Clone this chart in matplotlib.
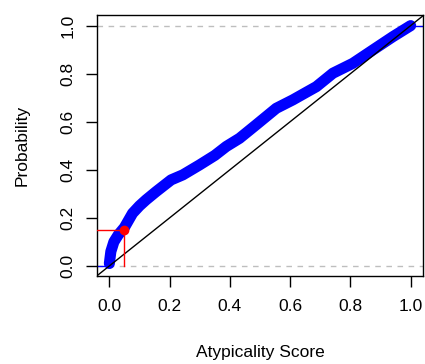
import matplotlib
matplotlib.use("Agg")
import matplotlib.pyplot as plt

plt.rcParams['font.family'] = ['Liberation Sans', 'DejaVu Sans']

# ecdf of atypicality scores
score = [0.0, 0.005, 0.015, 0.03, 0.05, 0.077, 0.10, 0.122, 0.155, 0.205, 0.244,
         0.299, 0.35, 0.388, 0.432, 0.487, 0.554, 0.609, 0.65, 0.687, 0.742,
         0.808, 0.875, 0.941, 1.0]
prob = [0.01, 0.06, 0.10, 0.13, 0.16, 0.219, 0.25, 0.275, 0.309, 0.358, 0.379,
        0.42, 0.46, 0.497, 0.531, 0.587, 0.656, 0.691, 0.72, 0.746, 0.802,
        0.843, 0.899, 0.954, 1.0]

# marked observation
obs_x = 0.05
obs_y = 0.15

ticks = [0.0, 0.2, 0.4, 0.6, 0.8, 1.0]
tick_labels = ["0.0", "0.2", "0.4", "0.6", "0.8", "1.0"]

fig = plt.figure(figsize=(4.25, 3.64), dpi=100)
W, H = 425, 364
ax = fig.add_axes([97.3 / W, 1 - 276 / H, (422.7 - 97.3) / W, (276 - 15.3) / H])

xlim = (-0.04, 1.04)
ylim = (-0.042, 1.043)
ax.set_xlim(xlim)
ax.set_ylim(ylim)

# reference lines
ax.axhline(0, color='#BEBEBE', lw=1.0, ls=(0, (4, 4)), zorder=1)
ax.axhline(1, color='#BEBEBE', lw=1.0, ls=(0, (4, 4)), zorder=1)

# ecdf tails
ax.hlines(0, xlim[0], score[0], color='blue', lw=1.0, zorder=2)
ax.hlines(1, score[-1], xlim[1], color='blue', lw=1.0, zorder=2)

# thick ecdf
ax.plot(score, prob, color='blue', lw=8.0, solid_capstyle='round',
        solid_joinstyle='round', zorder=3)

# identity line
ax.axline((0, 0), slope=1, color='black', lw=1.0, zorder=4)

# marked point with guides
ax.plot([xlim[0], obs_x], [obs_y, obs_y], color='red', lw=1.0, zorder=5)
ax.plot([obs_x, obs_x], [obs_y, 0], color='red', lw=1.0, zorder=5)
ax.plot([obs_x], [obs_y], 'o', color='red', ms=6, zorder=6)

for s in ax.spines.values():
    s.set_linewidth(1.0)
    s.set_color('black')

ax.set_xticks(ticks)
ax.set_xticklabels(tick_labels)
ax.set_yticks(ticks)
ax.set_yticklabels(tick_labels, rotation=90, va='center')
ax.tick_params(direction='out', length=7.9, width=1.0, labelsize=12.5)
ax.tick_params(axis='x', pad=8.5)
ax.tick_params(axis='y', pad=8.0)

ax.set_xlabel("Atypicality Score", fontsize=12.5)
ax.set_ylabel("Probability", fontsize=12.5)
ax.xaxis.set_label_coords(0.5, (276 - 352) / 260.7)
ax.xaxis.label.set_va('center')
ax.yaxis.set_label_coords((22 - 97.3) / 325.4, 0.5)
ax.yaxis.label.set_va('center')

fig.savefig("out.png", dpi=100)
